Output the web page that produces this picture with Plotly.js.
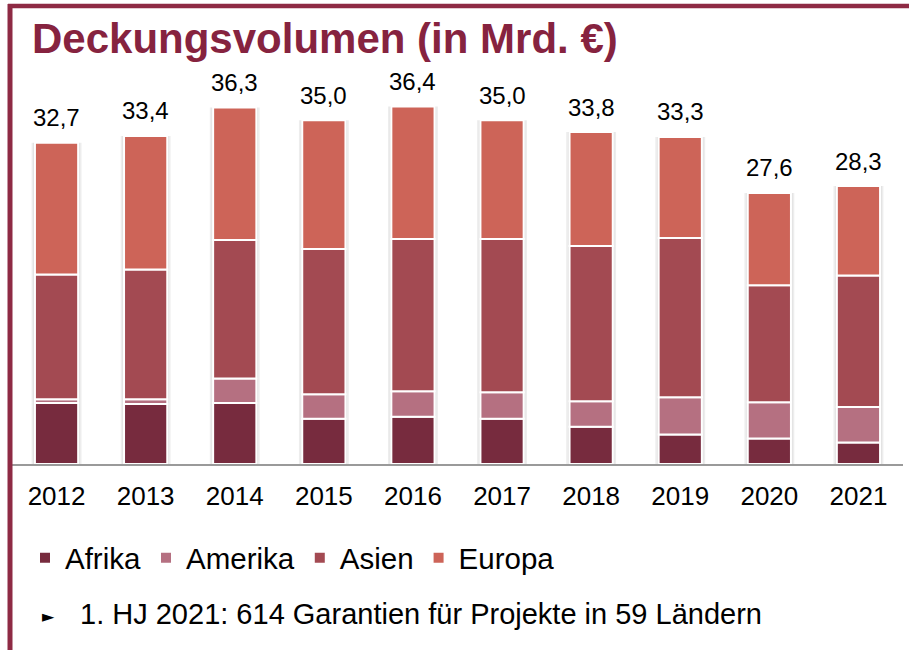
<!DOCTYPE html>
<html>
<head>
<meta charset="utf-8">
<script src="https://cdn.plot.ly/plotly-3.0.1.min.js"></script>
<style>
  html, body { margin: 0; padding: 0; background: #ffffff; }
  #chart { width: 909px; height: 650px; }
</style>
</head>
<body>
<div id="chart"></div>
<script>
// Data (Mrd. €)
const years   = ["2012","2013","2014","2015","2016","2017","2018","2019","2020","2021"];
const afrika  = [6.2, 6.1, 6.2, 4.6, 4.8, 4.6, 3.8, 3.0, 2.6, 2.2];
const amerika = [0.4, 0.5, 2.5, 2.5, 2.6, 2.7, 2.6, 3.8, 3.7, 3.6];
const asien   = [12.7, 13.2, 14.1, 14.8, 15.5, 15.6, 15.8, 16.2, 11.9, 13.4];
const europa  = [13.4, 13.6, 13.5, 13.1, 13.5, 12.1, 11.6, 10.3, 9.4, 9.1];
const totals  = [32.7, 33.4, 36.3, 35.0, 36.4, 35.0, 33.8, 33.3, 27.6, 28.3];
const seriesNames = ["Afrika", "Amerika", "Asien", "Europa"];

const colors = ["#772B3E", "#B57081", "#A34A52", "#CD6458"];
const FONT = "Liberation Sans, Arial, sans-serif";
const BAR_W = 0.485;

const seriesData = [afrika, amerika, asien, europa];

// cumulative bases for the stacked segments
const bases = [];
let running = years.map(() => 0);
seriesData.forEach(vals => {
  bases.push(running.slice());
  running = running.map((r, j) => r + vals[j]);
});

const traces = [];
// soft shadow behind each column
traces.push({
  type: "bar", x: years, y: totals, width: 0.56,
  marker: { color: "rgba(0,0,0,0.07)", line: { width: 0 } },
  showlegend: false, hoverinfo: "skip"
});
traces.push({
  type: "bar", x: years, y: totals, width: 0.52,
  marker: { color: "rgba(0,0,0,0.07)", line: { width: 0 } },
  showlegend: false, hoverinfo: "skip"
});
seriesData.forEach((vals, i) => {
  traces.push({
    type: "bar",
    name: seriesNames[i],
    x: years,
    y: vals,
    base: bases[i],
    width: BAR_W,
    marker: { color: colors[i], line: { color: "#ffffff", width: 2 } },
    hoverinfo: "skip"
  });
});

const ML = 12, MR = 6, MT = 80, MB = 186;
const PW = 909 - ML - MR, PH = 650 - MT - MB;
const px2x = px => (px - ML) / PW;
const py2y = py => (650 - MB - py) / PH;

const borderColor = "#8E2A44";

const totalLabels = years.map((yr, i) => ({
  xref: "x", yref: "y", x: i, y: totals[i],
  xanchor: "center", yanchor: "middle", yshift: 25,
  showarrow: false,
  text: totals[i].toFixed(1).replace(".", ","),
  font: { family: FONT, size: 24, color: "#000000" }
}));

const layout = {
  width: 909,
  height: 650,
  margin: { l: ML, r: MR, t: MT, b: MB, pad: 0 },
  paper_bgcolor: "#ffffff",
  plot_bgcolor: "#ffffff",
  barmode: "overlay",
  showlegend: true,
  font: { family: FONT, color: "#000000" },
  xaxis: {
    type: "category",
    categoryorder: "array",
    categoryarray: years,
    range: [-0.5, years.length - 0.5],
    autorange: false,
    showgrid: false,
    zeroline: false,
    showline: true,
    linecolor: "#9a9a9a",
    linewidth: 2,
    ticks: "",
    ticklabelstandoff: 8,
    tickfont: { family: FONT, size: 26, color: "#000000" },
    fixedrange: true
  },
  yaxis: {
    range: [0, 39.1],
    autorange: false,
    visible: false,
    showgrid: false,
    zeroline: false,
    fixedrange: true
  },
  legend: {
    orientation: "h",
    traceorder: "normal",
    x: px2x(25),
    xanchor: "left",
    y: py2y(558),
    yanchor: "middle",
    font: { family: FONT, size: 29.5, color: "#000000" },
    bgcolor: "rgba(0,0,0,0)",
    itemclick: false,
    itemdoubleclick: false
  },
  shapes: [
    { type: "line", xref: "paper", yref: "paper",
      x0: px2x(8), x1: px2x(909), y0: py2y(6), y1: py2y(6),
      line: { color: borderColor, width: 4.5 } },
    { type: "line", xref: "paper", yref: "paper",
      x0: px2x(10), x1: px2x(10), y0: py2y(4), y1: py2y(650),
      line: { color: borderColor, width: 5 } }
  ],
  annotations: totalLabels.concat([
    { xref: "paper", yref: "paper", x: px2x(30), y: py2y(38),
      xanchor: "left", yanchor: "middle", showarrow: false,
      text: "<b>Deckungsvolumen (in Mrd. €)</b>",
      font: { family: FONT, size: 42, color: "#86233F" } },
    { xref: "paper", yref: "paper", x: px2x(48), y: py2y(616),
      xanchor: "center", yanchor: "middle", showarrow: false,
      text: "►",
      font: { family: "DejaVu Sans, sans-serif", size: 16, color: "#000000" } },
    { xref: "paper", yref: "paper", x: px2x(78), y: py2y(614),
      xanchor: "left", yanchor: "middle", showarrow: false,
      text: "1. HJ 2021: 614 Garantien für Projekte in 59 Ländern",
      font: { family: FONT, size: 29, color: "#000000" } }
  ])
};

Plotly.newPlot("chart", traces, layout, { displayModeBar: false, staticPlot: true });
</script>
</body>
</html>
